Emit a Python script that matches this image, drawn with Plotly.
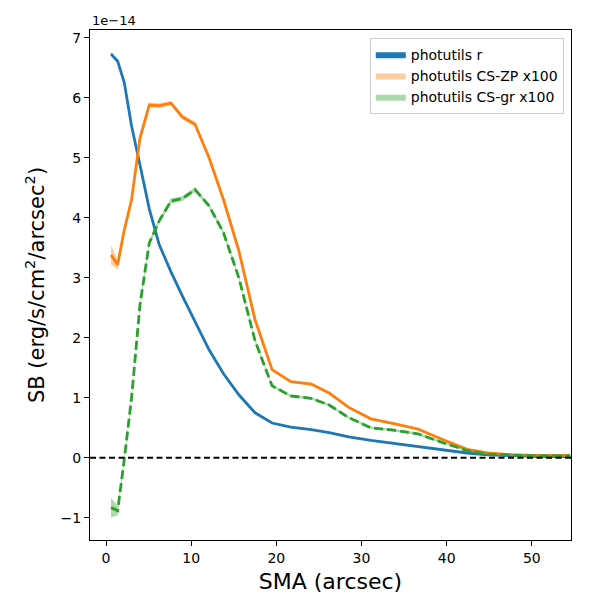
import plotly.graph_objs as go

# SMA grid (arcsec) and surface brightness profiles (units of 1e-14 erg/s/cm2/arcsec2)
sma = [0.59, 1.37, 2.15, 3.0, 3.99, 5.08, 6.25, 7.63, 8.96, 10.45, 12.1, 13.8, 15.6, 17.5,
       19.5, 21.7, 24.1, 26.2, 28.5, 31.1, 33.8, 36.6, 39.6, 42.4, 44.8, 47.8, 50.9, 54.5]

sb_r = [6.73, 6.61, 6.25, 5.53, 4.88, 4.15, 3.55, 3.1, 2.7, 2.27, 1.8, 1.4, 1.05, 0.75,
        0.58, 0.51, 0.47, 0.42, 0.35, 0.29, 0.24, 0.2, 0.14, 0.08, 0.05, 0.03, 0.02, 0.02]
err_r = [0.02, 0.02, 0.02, 0.02, 0.02, 0.02, 0.02, 0.02, 0.02, 0.02, 0.02, 0.02, 0.02, 0.02,
         0.01, 0.01, 0.01, 0.01, 0.01, 0.01, 0.01, 0.01, 0.01, 0.01, 0.01, 0.01, 0.01, 0.01]

sb_zp = [3.38, 3.22, 3.8, 4.3, 5.33, 5.88, 5.87, 5.91, 5.68, 5.56, 5.0, 4.3, 3.45, 2.3,
         1.47, 1.27, 1.23, 1.08, 0.84, 0.65, 0.57, 0.48, 0.3, 0.14, 0.08, 0.05, 0.04, 0.04]
err_zp = [0.16, 0.08, 0.05, 0.04, 0.04, 0.04, 0.04, 0.04, 0.04, 0.04, 0.03, 0.03, 0.03, 0.03,
          0.02, 0.02, 0.02, 0.02, 0.02, 0.02, 0.02, 0.02, 0.02, 0.02, 0.02, 0.02, 0.02, 0.02]

sb_gr = [-0.83, -0.88, -0.02, 1.0, 2.55, 3.58, 3.95, 4.28, 4.32, 4.47, 4.2, 3.75, 3.0, 1.95,
         1.2, 1.03, 0.99, 0.88, 0.67, 0.5, 0.46, 0.4, 0.25, 0.12, 0.06, 0.04, 0.03, 0.03]
err_gr = [0.16, 0.08, 0.05, 0.04, 0.04, 0.04, 0.04, 0.04, 0.04, 0.04, 0.03, 0.03, 0.03, 0.03,
          0.02, 0.02, 0.02, 0.02, 0.02, 0.02, 0.02, 0.02, 0.02, 0.02, 0.02, 0.02, 0.02, 0.02]

series = [
    ('photutils r', sb_r, err_r, '#1f77b4', 'rgba(31,119,180,1.0)', 'solid'),
    ('photutils CS-ZP x100', sb_zp, err_zp, '#ff7f0e', 'rgba(255,127,14,0.4)', 'solid'),
    ('photutils CS-gr x100', sb_gr, err_gr, '#2ca02c', 'rgba(44,160,44,0.4)', '9px,4px'),
]

fig = go.Figure()

for name, y, e, color, fill, dash in series:
    upper = [v + d for v, d in zip(y, e)]
    lower = [v - d for v, d in zip(y, e)]
    # error band (this is what shows up in the legend)
    fig.add_trace(go.Scatter(
        x=sma + sma[::-1],
        y=upper + lower[::-1],
        fill='toself',
        fillcolor=fill,
        line=dict(width=0),
        mode='lines',
        name=name,
        hoverinfo='skip',
    ))
    fig.add_trace(go.Scatter(
        x=sma, y=y,
        mode='lines',
        line=dict(color=color, width=2.8, dash=dash),
        showlegend=False,
    ))

# zero reference line
fig.add_hline(y=0, line=dict(color='black', width=2, dash='6px,3.5px'))

# page body has an 8px margin, so the figure is 592 px and margins are shifted
fig.update_layout(
    width=592, height=592,
    margin=dict(l=82, r=29, t=22, b=60),
    plot_bgcolor='white',
    paper_bgcolor='white',
    font=dict(family='DejaVu Sans', size=14, color='black'),
    legend=dict(
        x=0.985, y=0.985, xanchor='right', yanchor='top',
        bgcolor='rgba(255,255,255,0.8)',
        bordercolor='#cccccc', borderwidth=1,
        font=dict(size=14),
        tracegroupgap=0,
    ),
    showlegend=True,
)

fig.update_xaxes(
    range=[-1.88, 54.6],
    tickvals=[0, 10, 20, 30, 40, 50],
    ticks='outside', ticklen=5, tickcolor='black',
    showline=True, linecolor='black', linewidth=1, mirror=True,
    showgrid=False, zeroline=False,
    title=dict(text='SMA (arcsec)', font=dict(size=22), standoff=8),
)

fig.update_yaxes(
    range=[-1.37, 7.13],
    tickvals=[-1, 0, 1, 2, 3, 4, 5, 6, 7],
    ticks='outside', ticklen=5, tickcolor='black',
    showline=True, linecolor='black', linewidth=1, mirror=True,
    showgrid=False, zeroline=False,
    title=dict(text='SB (erg/s/cm<sup>2</sup>/arcsec<sup>2</sup>)', font=dict(size=21), standoff=10),
)

# matplotlib-style offset text
fig.add_annotation(
    text='1e\u221214', xref='paper', yref='paper', x=0, y=1,
    xanchor='left', yanchor='bottom', showarrow=False,
    font=dict(size=13), yshift=0,
)

fig.write_html('out.html')
